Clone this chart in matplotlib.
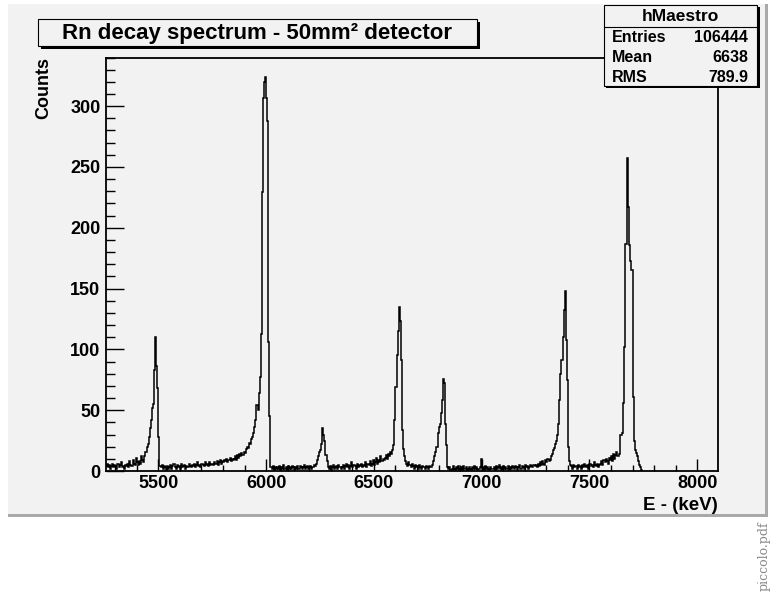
import numpy as np
import matplotlib
matplotlib.use('Agg')
import matplotlib.pyplot as plt
from matplotlib.patches import Rectangle
from matplotlib.ticker import MultipleLocator

plt.rcParams['font.family'] = ['Liberation Sans', 'DejaVu Sans']
plt.rcParams['font.weight'] = 'bold'

# spectrum, 5 keV bins starting at 5250 keV (one line = 100 keV)
bin_start = 5250
bin_width = 5
counts = [
    5, 4, 6, 3, 5, 2, 4, 6, 3, 5, 4, 2, 6, 3, 5, 7, 3, 4, 2, 5,            # 5250
    4, 6, 3, 8, 5, 4, 9, 6, 5, 11, 7, 5, 8, 6, 12, 9, 7, 12, 16, 20,       # 5350
    22, 28, 35, 42, 52, 55, 83, 110, 86, 68, 28, 4, 3, 5, 2, 4, 3, 1, 4, 2,  # 5450
    3, 5, 2, 4, 6, 3, 2, 5, 3, 4, 2, 6, 3, 4, 5, 2, 4, 3, 6, 4,            # 5550
    3, 5, 4, 6, 3, 5, 7, 4, 5, 3, 6, 5, 4, 7, 5, 6, 4, 7, 5, 6,            # 5650
    6, 5, 7, 6, 8, 5, 7, 9, 6, 8, 7, 9, 8, 10, 7, 9, 11, 8, 10, 9,         # 5750
    10, 12, 9, 13, 11, 14, 12, 15, 13, 16, 15, 18, 20, 19, 23, 22, 26, 28, 31, 36,  # 5850
    42, 54, 50, 64, 77, 113, 229, 307, 320, 324, 307, 288, 106, 45, 3, 2, 4, 1, 3, 2,  # 5950
    3, 2, 4, 1, 3, 2, 5, 2, 3, 1, 4, 2, 3, 2, 4, 3, 1, 3, 2, 4,            # 6050
    2, 4, 3, 2, 3, 5, 2, 3, 4, 2, 3, 4, 2, 3, 5, 4, 6, 9, 12, 16,          # 6150
    17, 22, 35, 30, 25, 13, 8, 3, 2, 4, 1, 3, 5, 2, 3, 4, 2, 5, 3, 2,      # 6250
    3, 5, 2, 4, 6, 3, 5, 2, 4, 7, 3, 5, 4, 2, 6, 3, 5, 4, 6, 3,            # 6350
    5, 4, 7, 3, 6, 5, 8, 4, 6, 9, 5, 7, 11, 6, 9, 7, 12, 8, 10, 9,         # 6450
    11, 13, 10, 14, 12, 16, 14, 17, 21, 42, 69, 95, 115, 135, 123, 91, 34, 18, 12, 8,  # 6550
    6, 4, 7, 5, 3, 6, 4, 2, 5, 3, 4, 2, 5, 3, 2, 4, 3, 2, 4, 3,            # 6650
    2, 4, 3, 3, 5, 8, 12, 16, 20, 31, 36, 39, 48, 58, 76, 72, 39, 21, 3, 2,  # 6750
    3, 1, 2, 4, 2, 1, 3, 2, 4, 1, 2, 3, 1, 4, 2, 3, 1, 2, 3, 2,            # 6850
    1, 3, 2, 4, 2, 3, 1, 2, 3, 10, 2, 3, 1, 4, 2, 3, 2, 1, 3, 2,           # 6950
    2, 3, 1, 4, 2, 3, 5, 2, 3, 1, 4, 2, 3, 2, 4, 1, 3, 2, 4, 3,            # 7050
    2, 4, 3, 1, 3, 5, 2, 4, 3, 2, 5, 3, 4, 2, 3, 5, 4, 3, 5, 4,            # 7150
    5, 3, 6, 4, 7, 5, 8, 6, 5, 9, 7, 10, 8, 9, 12, 14, 17, 19, 22, 25,     # 7250
    30, 39, 58, 80, 91, 110, 132, 148, 108, 75, 20, 8, 5, 4, 2, 5, 3, 4, 2, 5,  # 7350
    3, 4, 2, 5, 3, 6, 4, 3, 5, 2, 6, 4, 5, 3, 7, 5, 4, 6, 3, 5,            # 7450
    6, 8, 5, 9, 7, 10, 8, 6, 11, 9, 12, 8, 14, 10, 13, 16, 12, 14, 30, 30,  # 7550
    31, 56, 102, 187, 187, 257, 217, 186, 173, 165, 61, 25, 17, 15, 12, 8, 5, 3, 1, 0,  # 7650
]
edges = bin_start + bin_width * np.arange(len(counts) + 1)

x_range = (5257, 8094)
y_range = (0, 340)
title = 'Rn decay spectrum - 50mm\u00b2 detector'
stats_name = 'hMaestro'
stats_labels = ['Entries', 'Mean', 'RMS']
stats_values = ['106444', '6638', '789.9']

W, H = 771, 595
bg = '#f2f2f2'


def fx(x):
    return x / W


def fy(y):
    return 1 - y / H


def box(x0, y0, x1, y1, **kw):
    r = Rectangle((fx(x0), fy(y1)), (x1 - x0) / W, (y1 - y0) / H,
                  transform=fig.transFigure, **kw)
    fig.patches.append(r)
    return r


fig = plt.figure(figsize=(W / 100, H / 100), dpi=100)
fig.patch.set_facecolor('white')

# canvas with its shadow (behind the axes)
box(8, 4, 768, 517, facecolor='#a9a9a9', edgecolor='none', zorder=-10)
box(8, 4, 765, 514, facecolor=bg, edgecolor='none', zorder=-9)

ax = fig.add_axes([fx(106), fy(471), (717.5 - 106) / W, (471 - 57.5) / H])
ax.set_facecolor(bg)
ax.stairs(counts, edges, color='black', linewidth=1.1)
ax.set_xlim(*x_range)
ax.set_ylim(*y_range)

ax.xaxis.set_major_locator(MultipleLocator(500))
ax.xaxis.set_minor_locator(MultipleLocator(100))
ax.yaxis.set_major_locator(MultipleLocator(50))
ax.yaxis.set_minor_locator(MultipleLocator(10))
ax.tick_params(axis='both', which='both', direction='in', top=False, right=False,
               width=1.0, labelsize=13)
ax.tick_params(axis='x', which='major', length=8.6, pad=3)
ax.tick_params(axis='x', which='minor', length=4.3)
ax.tick_params(axis='y', which='major', length=13, pad=4)
ax.tick_params(axis='y', which='minor', length=6.5)
for s in ax.spines.values():
    s.set_linewidth(1.3)

fig.text(fx(44), fy(57), 'Counts', rotation=90, ha='center', va='top', fontsize=13)
fig.text(fx(717.5), fy(506), 'E - (keV)', ha='right', va='center', fontsize=13.5)

# title box
box(41, 22, 480, 49, facecolor='black', edgecolor='none', zorder=5)
box(38, 19, 477, 46, facecolor=bg, edgecolor='black', linewidth=0.8, zorder=6)
fig.text(fx(257), fy(33), title, ha='center', va='center', fontsize=16, zorder=7)

# statistics box
box(606, 7, 760, 88, facecolor='black', edgecolor='none', zorder=5)
box(604, 5, 757, 86, facecolor=bg, edgecolor='black', linewidth=0.8, zorder=6)
fig.add_artist(plt.Line2D([fx(604), fx(757)], [fy(27), fy(27)], color='black',
                          linewidth=0.8, transform=fig.transFigure, zorder=7))
fig.text(fx(680), fy(16.5), stats_name, ha='center', va='center', fontsize=12.5, zorder=7)
for i, (lab, val) in enumerate(zip(stats_labels, stats_values)):
    yy = 37 + 20.5 * i
    fig.text(fx(612), fy(yy), lab, ha='left', va='center', fontsize=11.5, zorder=7)
    fig.text(fx(748), fy(yy), val, ha='right', va='center', fontsize=11.5, zorder=7)

fig.text(fx(764), fy(556), 'piccolo.pdf', rotation=90, ha='center', va='center',
         fontsize=9, family='DejaVu Serif', fontweight='normal', color='#888888')

fig.savefig('out.png', dpi=100, facecolor='white')
